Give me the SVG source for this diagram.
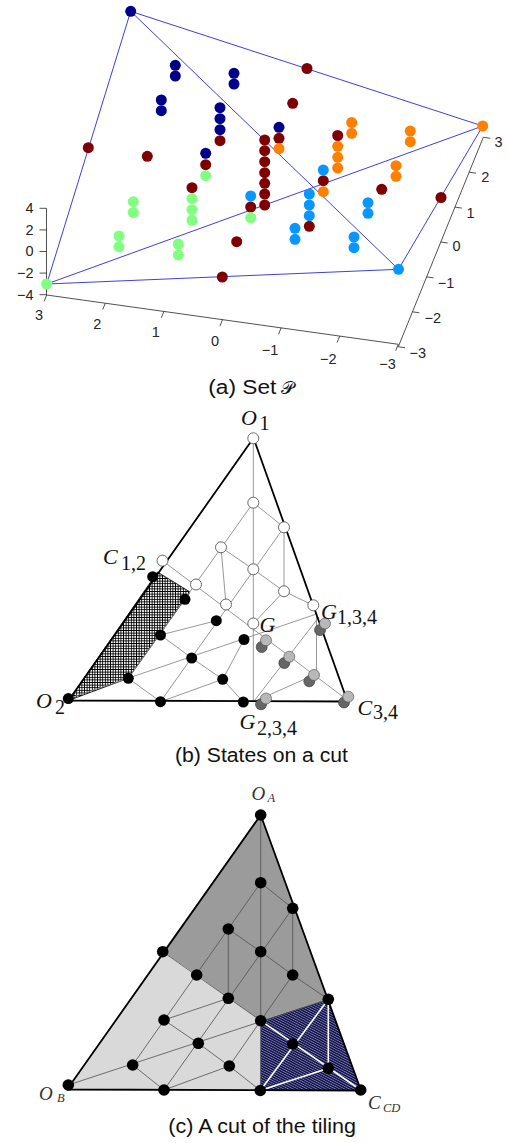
<svg xmlns="http://www.w3.org/2000/svg" width="508" height="1143" viewBox="0 0 508 1143">
<style>
.ax{stroke:#262626;stroke-width:0.8;fill:none}
.tk{font-family:"Liberation Sans",Arial,sans-serif;font-size:14.5px;fill:#262626}
.hull{stroke:#4040d8;stroke-width:1;fill:none}
.nv{fill:#00008b}.dr{fill:#7f0000}.gr{fill:#80ff80}.lb{fill:#0a96ff}.or{fill:#ff8000}
.gl{stroke:#8c8c8c;stroke-width:0.9;fill:none}
.gl2{stroke:#505050;stroke-width:0.8;fill:none}
.wl{stroke:#fff;stroke-width:1.6;fill:none}
.edge{stroke:#000;stroke-width:1.8;fill:none;stroke-linejoin:round}
.w{fill:#fff;stroke:#444;stroke-width:0.8}
.k{fill:#000}
.lg{fill:#b8b8b8;stroke:#444;stroke-width:0.6}
.dg{fill:#666;stroke:#333;stroke-width:0.6}
.m{font-family:"Liberation Serif","Times New Roman",serif;font-style:italic;font-size:22px;fill:#111}
.s{font-family:"Liberation Serif","Times New Roman",serif;font-size:20px;fill:#111}
.mc{font-family:"Liberation Serif","Times New Roman",serif;font-style:italic;font-size:19px;fill:#333}
.sc{font-family:"Liberation Serif","Times New Roman",serif;font-style:italic;font-size:12.5px;fill:#333}
.cap{font-family:"Liberation Sans",Arial,sans-serif;font-size:20px;fill:#111}
</style>
<defs>
<pattern id="xh" width="2.6" height="2.6" patternUnits="userSpaceOnUse"><rect width="2.6" height="2.6" fill="#fff"/><path d="M0 1.3H2.6M1.3 0V2.6" stroke="#000" stroke-width="0.9"/></pattern>
<pattern id="st" width="6" height="2.2" patternUnits="userSpaceOnUse" patternTransform="rotate(28)"><rect width="6" height="2.2" fill="#15154a"/><path d="M0 1.1H6" stroke="#a8a8e0" stroke-width="0.6"/></pattern>
</defs>

<!-- Panel (a) -->
<g id="panel-a">
<g id="a-axes">
<path class="ax" d="M46.5 208.3V295M46.7 295L398.3 344.3M398.3 346.7L483.3 137.3"/>
<path class="ax" d="M46.5 208.3H39.5M46.5 229.9H39.5M46.5 251.5H39.5M46.5 273.1H39.5M46.5 294.7H39.5"/>
<path class="ax" d="M46.7 295l-2.6 6.4M105.3 303.2l-2.6 6.4M163.9 311.4l-2.6 6.4M222.5 319.7l-2.6 6.4M281.1 327.9l-2.6 6.4M339.7 336.1l-2.6 6.4M398.3 344.3l-2.6 6.4"/>
<path class="ax" d="M483.3 137.3l7 1M469.1 172.2l7 1M454.9 207.1l7 1M440.7 242l7 1M426.5 276.9l7 1M412.3 311.8l7 1M398.1 346.7l7 1"/>
<g class="tk" text-anchor="end">
<text x="33.5" y="213">4</text><text x="33.5" y="234.5">2</text><text x="33.5" y="256.2">0</text><text x="33.5" y="277.9">−2</text><text x="33.5" y="299.5">−4</text>
</g>
<g class="tk" text-anchor="middle">
<text x="39" y="320">3</text><text x="97.3" y="328.5">2</text><text x="155.7" y="337.3">1</text><text x="215" y="346">0</text><text x="270" y="354.5">−1</text><text x="328.3" y="363.5">−2</text><text x="387.5" y="369">−3</text>
</g>
<g class="tk">
<text x="494.5" y="147.2">3</text><text x="481.2" y="182.2">2</text><text x="466.5" y="217.8">1</text><text x="452.5" y="251.2">0</text><text x="437.8" y="287.8">−1</text><text x="424.5" y="323.2">−2</text><text x="409.5" y="357.8">−3</text>
</g>
</g>
<g id="a-connectors" class="hull">
<path d="M130.7 11.3L482.7 126M130.7 11.3L46.7 284M130.7 11.3L398.5 269.3M46.7 284L482.7 126M46.7 284L398.5 269.3M398.5 269.3L482.7 126"/>
</g>
<g id="a-points">
<g class="nv">
<circle cx="130.7" cy="11.3" r="5.5"/><circle cx="175.3" cy="65.3" r="5.5"/><circle cx="175.3" cy="76" r="5.5"/><circle cx="234" cy="73.3" r="5.5"/><circle cx="234" cy="84" r="5.5"/><circle cx="161.3" cy="100" r="5.5"/><circle cx="161.3" cy="110.7" r="5.5"/><circle cx="220" cy="107.7" r="5.5"/><circle cx="220" cy="118.7" r="5.5"/><circle cx="220" cy="129.7" r="5.5"/><circle cx="205.7" cy="153.3" r="5.5"/><circle cx="279" cy="127.3" r="5.5"/>
</g>
<g class="dr">
<circle cx="88.3" cy="147.7" r="5.5"/><circle cx="307" cy="68.5" r="5.5"/><circle cx="292.7" cy="103.3" r="5.5"/><circle cx="220" cy="140.7" r="5.5"/><circle cx="147.3" cy="156.3" r="5.5"/><circle cx="205.7" cy="164.7" r="5.5"/><circle cx="279" cy="138.3" r="5.5"/>
<circle cx="264.7" cy="140" r="5.5"/><circle cx="264.7" cy="150.7" r="5.5"/><circle cx="264.7" cy="161.7" r="5.5"/><circle cx="264.7" cy="172.7" r="5.5"/><circle cx="264.7" cy="183.3" r="5.5"/><circle cx="264.7" cy="194" r="5.5"/><circle cx="264.7" cy="205" r="5.5"/>
<circle cx="192" cy="187.7" r="5.5"/><circle cx="250.7" cy="207" r="5.5"/><circle cx="309.3" cy="226.3" r="5.5"/><circle cx="337.7" cy="135.5" r="5.5"/><circle cx="323.3" cy="180.7" r="5.5"/><circle cx="381.7" cy="189.3" r="5.5"/><circle cx="441" cy="197.5" r="5.5"/><circle cx="236.7" cy="241.7" r="5.5"/><circle cx="222.3" cy="277" r="5.5"/>
</g>
<g class="gr">
<circle cx="46.7" cy="284" r="5.5"/><circle cx="205.7" cy="175.7" r="5.5"/><circle cx="192" cy="198.7" r="5.5"/><circle cx="192" cy="209.7" r="5.5"/><circle cx="192" cy="220.3" r="5.5"/><circle cx="133.3" cy="201.7" r="5.5"/><circle cx="133.3" cy="212.5" r="5.5"/><circle cx="119" cy="236" r="5.5"/><circle cx="119" cy="246.7" r="5.5"/><circle cx="178.3" cy="244" r="5.5"/><circle cx="178.3" cy="255" r="5.5"/><circle cx="250.7" cy="217.7" r="5.5"/>
</g>
<g class="lb">
<circle cx="398.5" cy="269.3" r="5.5"/><circle cx="250.7" cy="196" r="5.5"/><circle cx="309.3" cy="194" r="5.5"/><circle cx="309.3" cy="205" r="5.5"/><circle cx="309.3" cy="215.7" r="5.5"/><circle cx="295" cy="228.3" r="5.5"/><circle cx="295" cy="239.3" r="5.5"/><circle cx="323.3" cy="170" r="5.5"/><circle cx="368" cy="202.7" r="5.5"/><circle cx="368" cy="213.3" r="5.5"/><circle cx="354" cy="237" r="5.5"/><circle cx="354" cy="247.7" r="5.5"/>
</g>
<g class="or">
<circle cx="482.7" cy="126" r="5.5"/><circle cx="279" cy="148.7" r="5.5"/><circle cx="351.7" cy="122.5" r="5.5"/><circle cx="351.7" cy="133.3" r="5.5"/><circle cx="337.7" cy="146.3" r="5.5"/><circle cx="337.7" cy="157.3" r="5.5"/><circle cx="337.7" cy="168" r="5.5"/><circle cx="410.3" cy="131" r="5.5"/><circle cx="410.3" cy="141.7" r="5.5"/><circle cx="396" cy="165.7" r="5.5"/><circle cx="396" cy="176.3" r="5.5"/><circle cx="323.3" cy="191.7" r="5.5"/>
</g>
</g>
<text class="cap" x="208.3" y="394"><tspan textLength="68" lengthAdjust="spacingAndGlyphs">(a) Set</tspan><tspan x="281" font-family="DejaVu Sans, DejaVu Serif, Noto Sans, serif" font-size="18px">𝒫</tspan></text>
</g>

<!-- Panel (b) -->
<g id="panel-b">
<polygon id="b-hatch" points="157.5,572 190,592 128.3,678.3 68.5,700.5" fill="url(#xh)" stroke="#000" stroke-width="0.8"/>
<g id="b-connectors" class="gl">
<path d="M253.3 438.3V701.5"/>
<path d="M253.3 502.7L284 527.3"/>
<path d="M253.3 502.7L128.3 678.3"/>
<path d="M284 527.3L160.5 701.7"/>
<path d="M221 547.3L253.3 569.3"/>
<path d="M284 527.3V591.3"/>
<path d="M221 547.3L226 604.5"/>
<path d="M253.3 569.3L284 591.3"/>
<path d="M284 591.3L313.3 605.3"/>
<path d="M284 591.3L253.3 623.5"/>
<path d="M162.5 560.7L346 699"/>
<path d="M68.3 698.6L316.5 614"/>
<path d="M160.5 635L216.3 620.7"/>
<path d="M160.5 635L191.7 658L222.7 679.3L243.3 702"/>
<path d="M128.3 678.3L160.5 701.7"/>
<path d="M160.5 701.7L222.7 679.3L244 639.5"/>
<path d="M319 617L253.3 702"/>
<path d="M253.3 702L314 675"/>
<path d="M316.5 612V676"/>
</g>
<polygon id="b-outline" class="edge" points="253.5,438 68.5,700.5 347.5,701.5"/>
<g id="b-nodes">
<circle id="b-O1" class="w" cx="253.3" cy="438.3" r="5.5"/>
<circle id="b-A" class="w" cx="253.3" cy="502.7" r="5.5"/>
<circle id="b-B" class="w" cx="284" cy="527.3" r="5.5"/>
<circle id="b-C" class="w" cx="221" cy="547.3" r="5.5"/>
<circle id="b-D" class="w" cx="253.3" cy="569.3" r="5.5"/>
<circle id="b-E" class="w" cx="196" cy="584.5" r="5.5"/>
<circle id="b-F" class="w" cx="284" cy="591.3" r="5.5"/>
<circle id="b-Gw" class="w" cx="226" cy="604.5" r="5.5"/>
<circle id="b-G134" class="w" cx="313.3" cy="605.3" r="5.5"/>
<circle id="b-G" class="w" cx="253.3" cy="623.5" r="5.5"/>
<circle id="b-C12" class="w" cx="162.5" cy="560.7" r="5.5"/>
<circle class="k" cx="152.7" cy="576.7" r="5.5"/>
<circle class="k" cx="185" cy="599.3" r="5.5"/>
<circle class="k" cx="216.3" cy="620.7" r="5.5"/>
<circle class="k" cx="244" cy="639.5" r="5.5"/>
<circle class="k" cx="160.5" cy="635" r="5.5"/>
<circle class="k" cx="191.7" cy="658" r="5.5"/>
<circle class="k" cx="222.7" cy="679.3" r="5.5"/>
<circle class="k" cx="128.3" cy="678.3" r="5.5"/>
<circle class="k" cx="160.5" cy="701.7" r="5.5"/>
<circle class="k" cx="243.3" cy="702" r="5.5"/>
<circle id="b-O2" class="k" cx="68.3" cy="698.6" r="5.5"/>
<circle class="dg" cx="320" cy="630" r="5.5"/><circle class="lg" cx="325" cy="623.5" r="5.5"/>
<circle class="dg" cx="261.7" cy="647" r="5.5"/><circle class="lg" cx="266" cy="640.3" r="5.5"/>
<circle class="dg" cx="284.3" cy="663" r="5.5"/><circle class="lg" cx="289.3" cy="656.7" r="5.5"/>
<circle class="dg" cx="309.3" cy="681.3" r="5.5"/><circle class="lg" cx="314" cy="675" r="5.5"/>
<circle class="dg" cx="261" cy="704.3" r="5.5"/><circle class="lg" cx="266" cy="698.5" r="5.5"/>
<circle class="dg" cx="344" cy="702.5" r="5.5"/><circle class="lg" cx="348.3" cy="696.7" r="5.5"/>
</g>
<g id="b-labels">
<text class="m" x="241" y="424.5">O</text><text class="s" x="259.5" y="430">1</text>
<text class="m" x="103" y="564">C</text><text class="s" x="121" y="570">1,2</text>
<text class="m" x="259.5" y="631.7">G</text>
<text class="m" x="321" y="619">G</text><text class="s" x="337" y="623.5">1,3,4</text>
<text class="m" x="36" y="708">O</text><text class="s" x="55" y="713.5">2</text>
<text class="m" x="239.5" y="728.5">G</text><text class="s" x="257" y="735">2,3,4</text>
<text class="m" x="357.5" y="715">C</text><text class="s" x="373" y="719">3,4</text>
</g>
<text class="cap" x="175" y="762" textLength="173" lengthAdjust="spacingAndGlyphs">(b) States on a cut</text>
</g>

<!-- Panel (c) -->
<g id="panel-c">
<g id="c-regions">
<polygon points="260.7,815 327.8,999.3 260.7,1020.7 228.3,998.3 196.7,975 162.7,951.7" fill="#9b9b9b"/>
<polygon points="162.7,951.7 196.7,975 228.3,998.3 260.7,1020.7 260.3,1090.5 67,1089.5" fill="#d9d9d9"/>
<polygon points="260.7,1020.7 327.8,999.3 361,1090.5 260.3,1090.5" fill="url(#st)"/>
</g>
<g id="c-connectors">
<g class="gl2">
<path d="M260.7 815V1090.5"/>
<path d="M260.7 882.7L292.7 908.3"/>
<path d="M260.7 882.7L132.7 1065"/>
<path d="M292.7 908.3L164 1090"/>
<path d="M228.3 929L260.7 951.7"/>
<path d="M292.7 908.3V975"/>
<path d="M228.3 929V998.3"/>
<path d="M260.7 951.7L292.7 975"/>
<path d="M292.7 975L328.3 999.3"/>
<path d="M292.7 975L260.7 1020.7"/>
<path d="M162.7 951.7L260.7 1020.7"/>
<path d="M68.3 1085L328.3 999.3"/>
<path d="M164 1020L228.3 998.3"/>
<path d="M164 1020L198.3 1043.3L229.3 1066L260.3 1090.5"/>
<path d="M132.7 1065L164 1090"/>
<path d="M164 1090L229.3 1066L260.7 1020.7"/>
</g>
<g class="wl">
<path d="M260.7 1020.7L360.7 1090"/>
<path d="M328.3 999.3V1068.3"/>
<path d="M328.3 999.3L260.3 1090.5"/>
<path d="M260.3 1090.5L328.3 1068.3"/>
</g>
</g>
<polygon id="c-outline" class="edge" points="260.7,815 67,1089.5 361,1090.5"/>
<g id="c-nodes" class="k">
<circle id="c-OA" cx="260.7" cy="815" r="5.8"/>
<circle cx="260.7" cy="882.7" r="5.8"/>
<circle cx="292.7" cy="908.3" r="5.8"/>
<circle cx="228.3" cy="929" r="5.8"/>
<circle cx="260.7" cy="951.7" r="5.8"/>
<circle cx="162.7" cy="951.7" r="5.8"/>
<circle cx="196.7" cy="975" r="5.8"/>
<circle cx="292.7" cy="975" r="5.8"/>
<circle cx="228.3" cy="998.3" r="5.8"/>
<circle cx="328.3" cy="999.3" r="5.8"/>
<circle cx="164" cy="1020" r="5.8"/>
<circle cx="260.7" cy="1020.7" r="5.8"/>
<circle cx="198.3" cy="1043.3" r="5.8"/>
<circle cx="292.7" cy="1044" r="5.8"/>
<circle cx="132.7" cy="1065" r="5.8"/>
<circle cx="229.3" cy="1066" r="5.8"/>
<circle cx="328.3" cy="1068.3" r="5.8"/>
<circle id="c-OB" cx="68.3" cy="1085" r="5.8"/>
<circle cx="164" cy="1090" r="5.8"/>
<circle cx="260.3" cy="1090.5" r="5.8"/>
<circle id="c-CCD" cx="360.7" cy="1090" r="5.8"/>
</g>
<g id="c-labels">
<text class="mc" x="251.5" y="800">O</text><text class="sc" x="267.5" y="802">A</text>
<text class="mc" x="39" y="1100">O</text><text class="sc" x="57" y="1102">B</text>
<text class="mc" x="368" y="1108.5">C</text><text class="sc" x="383" y="1112">CD</text>
</g>
<text class="cap" x="168.3" y="1133" textLength="187.7" lengthAdjust="spacingAndGlyphs">(c) A cut of the tiling</text>
</g>
</svg>
